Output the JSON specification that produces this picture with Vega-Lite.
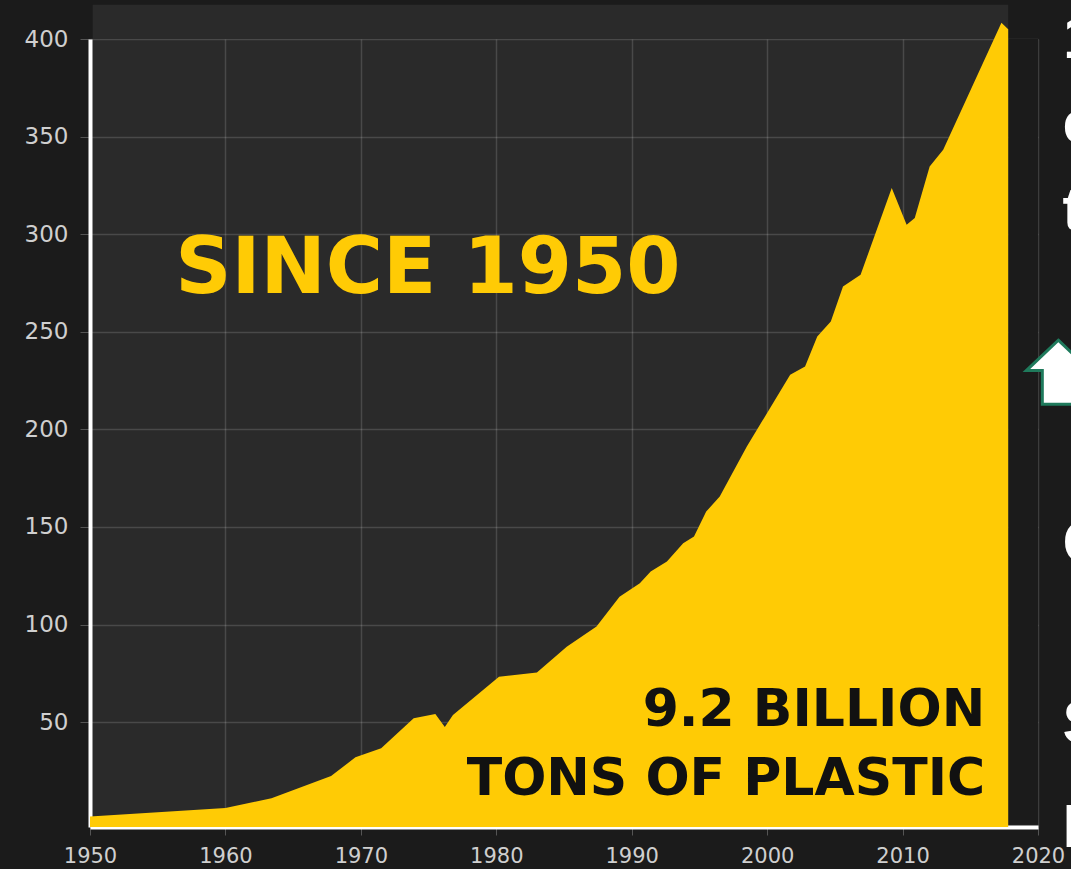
{
  "$schema": "https://vega.github.io/schema/vega-lite/v6.json",
  "autosize": "none",
  "padding": {"left": 90, "top": 39, "right": 33, "bottom": 42},
  "width": 948,
  "height": 788,
  "background": "#1b1b1b",
  "view": {"fill": "#2a2a2a", "stroke": null},
  "config": {
    "font": "DejaVu Sans",
    "axis": {
      "title": null, "grid": true,
      "gridColor": "#ffffff", "gridOpacity": 0.15, "gridWidth": 1.5,
      "domainColor": "#ffffff", "domainWidth": 4,
      "tickColor": "#555555",
      "labelColor": "#cfcfcf", "labelFontSize": 23,
      "labelFont": "DejaVu Sans", "labelFlush": false, "labelOverlap": false
    },
    "axisX": {"tickSize": 8, "labelPadding": 10, "labelFontSize": 21},
    "axisY": {"tickSize": 10, "labelPadding": 12}
  },
  "datasets": {
    "production": [
      {"year": 1950, "value": 1.7},
      {"year": 1960, "value": 6},
      {"year": 1963.4, "value": 11},
      {"year": 1967.8, "value": 22.4},
      {"year": 1969.6, "value": 32},
      {"year": 1971.5, "value": 36.6},
      {"year": 1973.9, "value": 52},
      {"year": 1975.5, "value": 54.2},
      {"year": 1976.2, "value": 47.5},
      {"year": 1976.8, "value": 53.7},
      {"year": 1980.2, "value": 73.3},
      {"year": 1983, "value": 75.5},
      {"year": 1985.2, "value": 88.7},
      {"year": 1987.4, "value": 99},
      {"year": 1989.1, "value": 114.3},
      {"year": 1990.6, "value": 121.2},
      {"year": 1991.4, "value": 127.2},
      {"year": 1992.6, "value": 132.3},
      {"year": 1993.8, "value": 141.7},
      {"year": 1994.6, "value": 145.1},
      {"year": 1995.5, "value": 157.9},
      {"year": 1996.5, "value": 165.6},
      {"year": 1998.5, "value": 191.2},
      {"year": 2001.7, "value": 228},
      {"year": 2002.8, "value": 232.2},
      {"year": 2003.7, "value": 247.6},
      {"year": 2004.7, "value": 255.3},
      {"year": 2005.6, "value": 273.2},
      {"year": 2006.9, "value": 279.2},
      {"year": 2009.2, "value": 323.7},
      {"year": 2010.3, "value": 304.9},
      {"year": 2010.9, "value": 308.3},
      {"year": 2012, "value": 334.7},
      {"year": 2013, "value": 343.3},
      {"year": 2017.3, "value": 408.3},
      {"year": 2017.8, "value": 405}
    ],
    "headline": [
      {"text": "SINCE 1950", "year": 1956.3, "value": 270}
    ],
    "total": [
      {"text": "9.2 BILLION", "year": 2016.1, "value": 48.1},
      {"text": "TONS OF PLASTIC", "year": 2016.1, "value": 12.7}
    ],
    "sidebar": [
      {"text": "1", "year": 2021.85, "value": 390.5},
      {"text": "e", "year": 2021.8, "value": 346.9},
      {"text": "t", "year": 2021.8, "value": 302.3},
      {"text": "C", "year": 2021.8, "value": 131.6},
      {"text": "S", "year": 2021.8, "value": 39.4},
      {"text": "P", "year": 2021.8, "value": -14}
    ],
    "arrow": [
      {"year": 2021.5, "value": 229.3}
    ]
  },
  "layer": [
    {
      "data": {"values": [{}]},
      "mark": {"type": "rect", "color": "#1b1b1b"},
      "encoding": {
        "x": {"datum": 2017.8, "type": "quantitative", "scale": {"domain": [1950, 2020], "nice": false, "zero": false}},
        "x2": {"datum": 2020},
        "y": {"datum": -2.5, "type": "quantitative", "scale": {"domain": [-3.7, 400], "nice": false, "zero": false}},
        "y2": {"datum": 400}
      }
    },
    {
      "data": {"values": [{}]},
      "mark": {"type": "rect", "color": "#2a2a2a"},
      "encoding": {
        "x": {"datum": 1950.2, "type": "quantitative"},
        "x2": {"datum": 2017.8},
        "y": {"datum": 400, "type": "quantitative"},
        "y2": {"datum": 417.6}
      }
    },
    {
      "data": {"name": "production"},
      "mark": {"type": "area", "color": "#FFCB05", "interpolate": "linear"},
      "encoding": {
        "x": {
          "field": "year", "type": "quantitative",
          "scale": {"domain": [1950, 2020], "nice": false, "zero": false},
          "axis": {"values": [1950, 1960, 1970, 1980, 1990, 2000, 2010, 2020], "format": "d", "title": null}
        },
        "y": {
          "field": "value", "type": "quantitative",
          "scale": {"domain": [-3.7, 400], "nice": false, "zero": false},
          "axis": {"values": [50, 100, 150, 200, 250, 300, 350, 400], "title": null}
        },
        "y2": {"datum": -3.7}
      }
    },
    {
      "data": {"name": "headline"},
      "mark": {"type": "text", "align": "left", "baseline": "alphabetic", "font": "DejaVu Sans", "fontSize": 78, "fontWeight": "bold", "color": "#FFCB05"},
      "encoding": {
        "x": {"field": "year", "type": "quantitative"},
        "y": {"field": "value", "type": "quantitative"},
        "text": {"field": "text"}
      }
    },
    {
      "data": {"name": "total"},
      "mark": {"type": "text", "align": "right", "baseline": "alphabetic", "font": "DejaVu Sans", "fontSize": 52, "fontWeight": "bold", "color": "#111111"},
      "encoding": {
        "x": {"field": "year", "type": "quantitative"},
        "y": {"field": "value", "type": "quantitative"},
        "text": {"field": "text"}
      }
    },
    {
      "data": {"name": "sidebar"},
      "mark": {"type": "text", "align": "left", "baseline": "alphabetic", "font": "Liberation Sans", "fontSize": 62, "fontWeight": "bold", "color": "#ffffff"},
      "encoding": {
        "x": {"field": "year", "type": "quantitative"},
        "y": {"field": "value", "type": "quantitative"},
        "text": {"field": "text"}
      }
    },
    {
      "data": {"name": "arrow"},
      "mark": {"type": "point", "shape": "M0,-1L1,-0.05L0.5,-0.05L0.5,1L-0.5,1L-0.5,-0.05L-1,-0.05Z", "size": 4096, "filled": true, "fill": "#ffffff", "stroke": "#1f7a5c", "strokeWidth": 3, "opacity": 1},
      "encoding": {
        "x": {"field": "year", "type": "quantitative"},
        "y": {"field": "value", "type": "quantitative"}
      }
    }
  ]
}
